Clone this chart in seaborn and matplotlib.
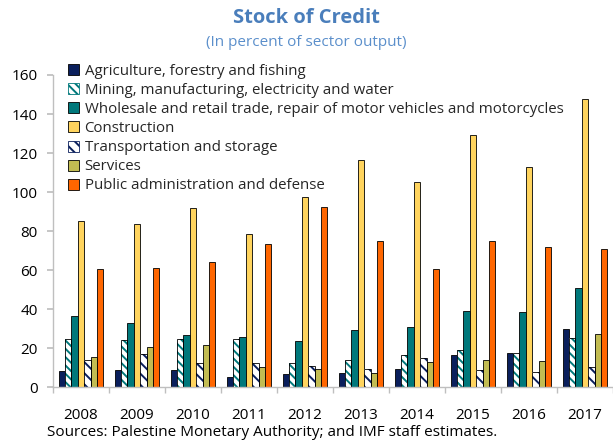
import matplotlib
matplotlib.use("Agg")
import matplotlib.pyplot as plt
from matplotlib.patches import Patch, Rectangle
import seaborn as sns
import pandas as pd
import numpy as np

years = ["2008", "2009", "2010", "2011", "2012", "2013", "2014", "2015", "2016", "2017"]
sectors = [
    "Agriculture, forestry and fishing",
    "Mining, manufacturing, electricity and water",
    "Wholesale and retail trade, repair of motor vehicles and motorcycles",
    "Construction",
    "Transportation and storage",
    "Services",
    "Public administration and defense",
]
agriculture = [8.4, 9.1, 9.1, 5.3, 6.7, 7.4, 9.5, 16.3, 17.5, 30.1]
mining = [24.9, 24.3, 25.0, 24.6, 12.2, 13.9, 16.7, 18.9, 17.5, 25.3]
wholesale = [36.6, 33.0, 27.0, 25.8, 23.7, 29.2, 31.1, 39.2, 38.7, 51.1]
construction = [85.1, 83.7, 92.0, 78.6, 97.5, 116.2, 105.1, 129.2, 113.0, 147.8]
transport = [13.8, 17.0, 12.2, 12.6, 10.8, 9.5, 15.0, 9.1, 7.7, 10.5]
services = [15.4, 20.8, 21.5, 10.5, 9.3, 7.2, 12.9, 13.9, 13.4, 27.4]
public_admin = [60.5, 61.2, 64.3, 73.6, 92.3, 74.7, 60.7, 75.2, 71.8, 70.8]

series = [agriculture, mining, wholesale, construction, transport, services, public_admin]
rows = []
for s, vals in zip(sectors, series):
    for y, v in zip(years, vals):
        rows.append({"year": y, "sector": s, "value": v})
df = pd.DataFrame(rows)

face = ["#0A1F5C", "#FFFFFF", "#00787B", "#FFD45E", "#FFFFFF", "#C2BC52", "#FF6600"]
hatch_col = [None, "#00787B", None, None, "#0A1F5C", None, None]
hatches = [None, "\\\\\\\\", None, None, "\\\\\\", None, None]

sns.set_theme(style="white")
plt.rcParams["font.family"] = ["Open Sans", "DejaVu Sans"]
plt.rcParams["hatch.linewidth"] = 1.4

fig = plt.figure(figsize=(6.13, 4.43), dpi=100)
ax = fig.add_axes([53 / 613, 1 - 387.3 / 443, 1 - 53 / 613, (387.3 - 75) / 443])

sns.barplot(data=df, x="year", y="value", hue="sector", hue_order=sectors,
            palette=dict(zip(sectors, face)), width=0.8, gap=0.0,
            edgecolor="black", linewidth=0.6, legend=False, ax=ax, errorbar=None,
            saturation=1)

for i, cont in enumerate(ax.containers):
    for bar in cont:
        bar.set_facecolor(face[i])
        if hatches[i]:
            bar.set_hatch(hatches[i])
            bar.set_edgecolor(hatch_col[i])
            bar.set_linewidth(0)
            ax.add_patch(Rectangle(bar.get_xy(), bar.get_width(), bar.get_height(),
                                   fill=False, edgecolor="black", linewidth=0.6,
                                   zorder=bar.get_zorder() + 0.1))

ax.set_ylim(0, 160)
ax.set_xlim(-0.5, len(years) - 0.5)
ax.set_yticks(np.arange(0, 161, 20))
ax.set_xlabel("")
ax.set_ylabel("")
for sp in ["top", "right"]:
    ax.spines[sp].set_visible(False)
for sp in ["left", "bottom"]:
    ax.spines[sp].set_color("#BFBFBF")
    ax.spines[sp].set_linewidth(1.0)
ax.tick_params(axis="y", which="major", left=True, length=4, color="#BFBFBF",
               labelsize=11, pad=7, labelcolor="#000000")
ax.tick_params(axis="x", which="major", bottom=False, labelsize=11, pad=9,
               labelcolor="#000000")
ax.set_xticks(np.arange(-0.5, len(years), 1.0), minor=True)
ax.tick_params(axis="x", which="minor", bottom=True, length=4, color="#BFBFBF")

handles = []
for i in range(len(sectors)):
    if hatches[i]:
        handles.append(Patch(facecolor="white", edgecolor=hatch_col[i], hatch=hatches[i], linewidth=0.6))
    else:
        handles.append(Patch(facecolor=face[i], edgecolor="black", linewidth=0.6))
leg = fig.legend(handles, sectors, loc="upper left", bbox_to_anchor=(68 / 613, 1 - 64 / 443),
                 frameon=False, fontsize=10.85, handlelength=0.75, handleheight=0.75,
                 handletextpad=0.35, labelspacing=0.27, borderpad=0, borderaxespad=0)

fig.text(0.5, 1 - 18 / 443, "Stock of Credit", ha="center", va="center", fontsize=14.5,
         fontweight="bold", color="#4A7EBB")
fig.text(0.5, 1 - 43 / 443, "(In percent of sector output)", ha="center", va="center",
         fontsize=11, color="#5B8FCB")
fig.text(47 / 613, 1 - 432 / 443, "Sources: Palestine Monetary Authority; and IMF staff estimates.",
         ha="left", va="center", fontsize=11, color="#000000")

fig.savefig("out.png", dpi=100)
